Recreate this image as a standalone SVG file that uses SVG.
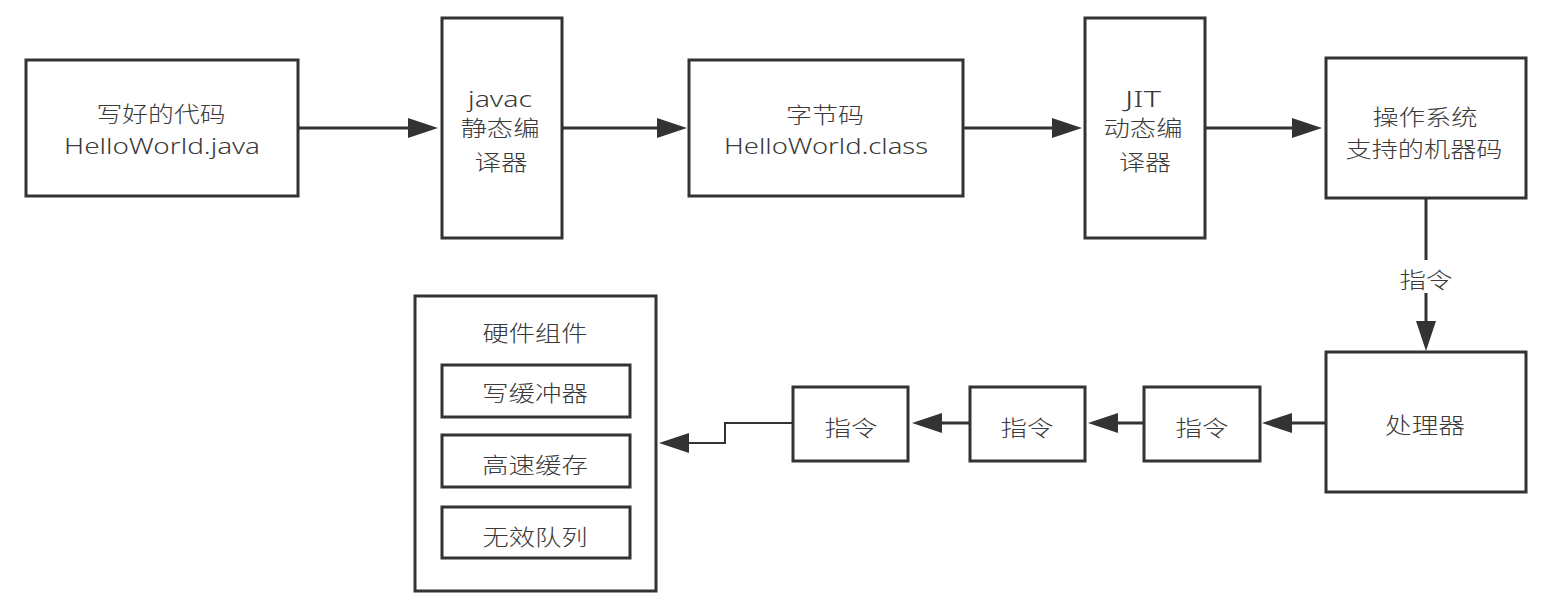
<svg xmlns="http://www.w3.org/2000/svg" width="1548" height="604" viewBox="0 0 1548 604">
<style>
.box{fill:#fff;stroke:#333;stroke-width:3}
.t{font-family:"Noto Sans","Noto Sans CJK SC",sans-serif;font-size:22px;font-weight:300;fill:#3a3a3a;text-anchor:middle}
.l{font-family:"Noto Sans","Noto Sans CJK SC",sans-serif;font-size:21px;font-weight:300;fill:#3a3a3a;text-anchor:middle}
.c{fill:none;stroke:#333;stroke-width:3}
.thin{fill:none;stroke:#333;stroke-width:2}
</style>
<defs>
<marker id="ah" markerUnits="userSpaceOnUse" markerWidth="30" markerHeight="20" refX="0" refY="10" orient="auto" overflow="visible">
<path d="M0,0 L30,10 L0,20 Z" fill="#333"/>
</marker>
</defs>
<rect width="1548" height="604" fill="#fff"/>
<g id="connectors">
<line class="c" x1="299" y1="128" x2="408" y2="128" marker-end="url(#ah)"/>
<line class="c" x1="562" y1="128" x2="657" y2="128" marker-end="url(#ah)"/>
<line class="c" x1="963" y1="128" x2="1052" y2="128" marker-end="url(#ah)"/>
<line class="c" x1="1205" y1="128" x2="1292" y2="128" marker-end="url(#ah)"/>
<line class="c" x1="1426" y1="199" x2="1426" y2="260"/>
<line class="c" x1="1426" y1="293" x2="1426" y2="321" marker-end="url(#ah)"/>
<text class="t" x="1426" y="288" textLength="53" lengthAdjust="spacingAndGlyphs">指令</text>
<line class="c" x1="1325" y1="423" x2="1292" y2="423" marker-end="url(#ah)"/>
<line class="c" x1="1144" y1="423" x2="1118" y2="423" marker-end="url(#ah)"/>
<line class="c" x1="970" y1="423" x2="942" y2="423" marker-end="url(#ah)"/>
<path class="thin" d="M793,423 L725,423 L725,443 L689,443" marker-end="url(#ah)"/>
</g>
<g id="source">
<rect class="box" x="26" y="60" width="272" height="136"/>
<text class="t" x="161" y="121.5" textLength="129" lengthAdjust="spacingAndGlyphs">写好的代码</text>
<text class="l" x="162" y="154" textLength="196" lengthAdjust="spacingAndGlyphs">HelloWorld.java</text>
</g>
<g id="javac">
<rect class="box" x="442" y="18" width="120" height="220"/>
<text class="l" x="500" y="107" textLength="64" lengthAdjust="spacingAndGlyphs">javac</text>
<text class="t" x="500" y="136" textLength="79" lengthAdjust="spacingAndGlyphs">静态编</text>
<text class="t" x="501" y="170" textLength="53" lengthAdjust="spacingAndGlyphs">译器</text>
</g>
<g id="bytecode">
<rect class="box" x="689" y="60" width="274" height="136"/>
<text class="t" x="825" y="123" textLength="78" lengthAdjust="spacingAndGlyphs">字节码</text>
<text class="l" x="826" y="154" textLength="204" lengthAdjust="spacingAndGlyphs">HelloWorld.class</text>
</g>
<g id="jit">
<rect class="box" x="1085" y="18" width="120" height="220"/>
<text class="l" x="1143" y="107" textLength="36" lengthAdjust="spacingAndGlyphs">JIT</text>
<text class="t" x="1143" y="136" textLength="79" lengthAdjust="spacingAndGlyphs">动态编</text>
<text class="t" x="1145" y="170" textLength="52" lengthAdjust="spacingAndGlyphs">译器</text>
</g>
<g id="machinecode">
<rect class="box" x="1326" y="58" width="200" height="140"/>
<text class="t" x="1425" y="125" textLength="105" lengthAdjust="spacingAndGlyphs">操作系统</text>
<text class="t" x="1424" y="156.5" textLength="157" lengthAdjust="spacingAndGlyphs">支持的机器码</text>
</g>
<g id="processor">
<rect class="box" x="1326" y="352" width="200" height="140"/>
<text class="t" x="1425" y="433" textLength="80" lengthAdjust="spacingAndGlyphs">处理器</text>
</g>
<g id="instr3">
<rect class="box" x="1144" y="387" width="116" height="74"/>
<text class="t" x="1202" y="436" textLength="53" lengthAdjust="spacingAndGlyphs">指令</text>
</g>
<g id="instr2">
<rect class="box" x="970" y="387" width="115" height="74"/>
<text class="t" x="1027" y="436" textLength="53" lengthAdjust="spacingAndGlyphs">指令</text>
</g>
<g id="instr1">
<rect class="box" x="793" y="387" width="115" height="74"/>
<text class="t" x="851" y="436" textLength="53" lengthAdjust="spacingAndGlyphs">指令</text>
</g>
<g id="hardware">
<rect class="box" x="415" y="296" width="241" height="295"/>
<text class="t" x="535" y="341" textLength="105" lengthAdjust="spacingAndGlyphs">硬件组件</text>
<rect class="box" x="442" y="365" width="188" height="52"/>
<text class="t" x="535" y="401" textLength="106" lengthAdjust="spacingAndGlyphs">写缓冲器</text>
<rect class="box" x="442" y="435" width="188" height="52"/>
<text class="t" x="535" y="473" textLength="106" lengthAdjust="spacingAndGlyphs">高速缓存</text>
<rect class="box" x="442" y="507" width="188" height="51"/>
<text class="t" x="535" y="545" textLength="105" lengthAdjust="spacingAndGlyphs">无效队列</text>
</g>
</svg>
